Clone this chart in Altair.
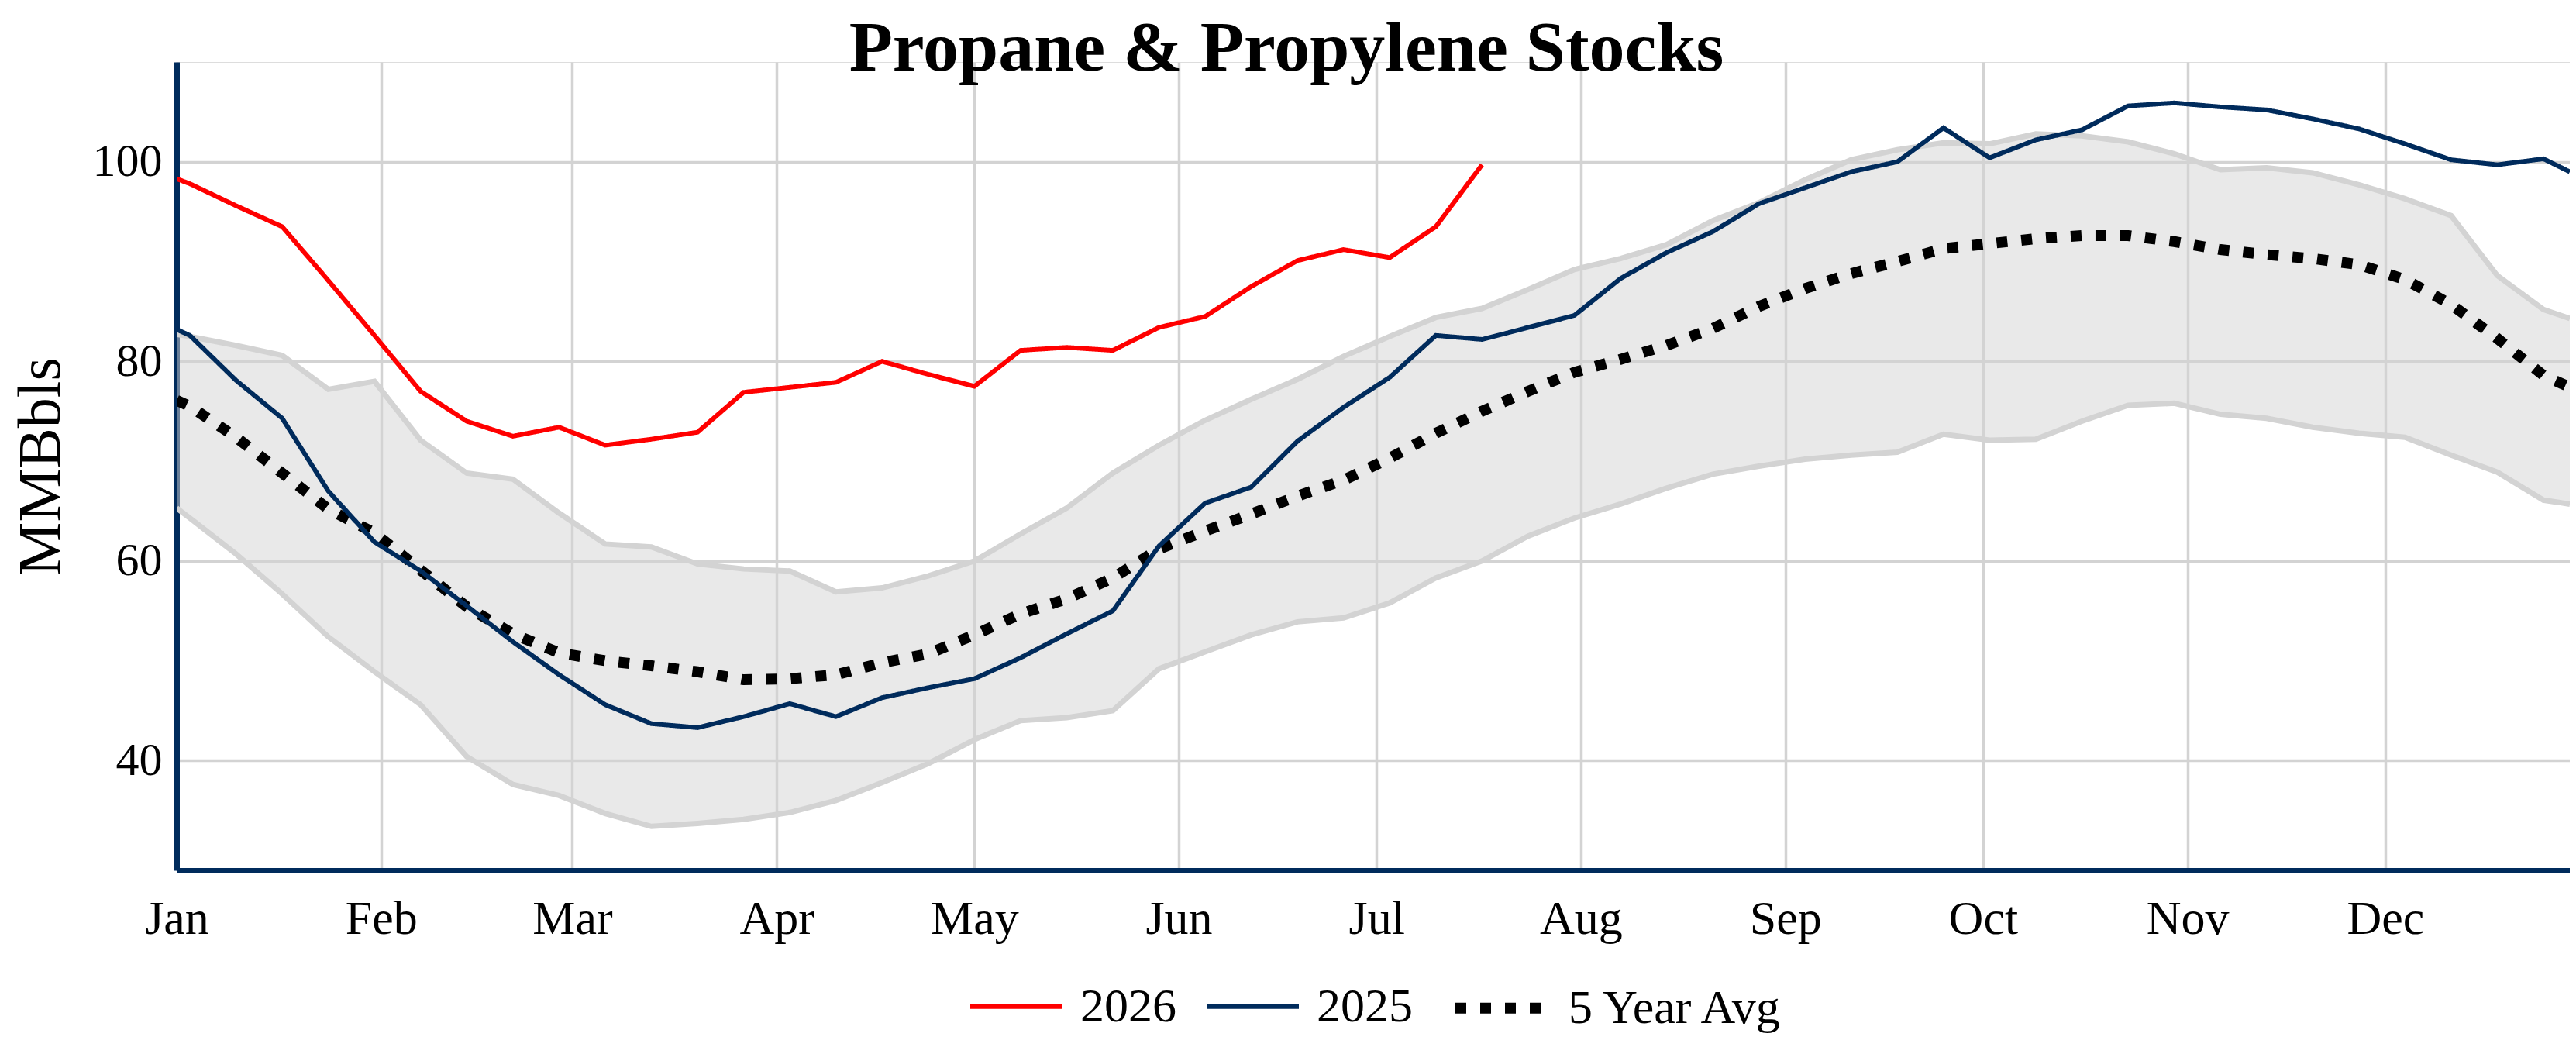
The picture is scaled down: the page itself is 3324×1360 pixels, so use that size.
import altair as alt
import pandas as pd

# ---------------- data ----------------
SERIES = ["2026", "2025", "5 Year Avg"]
COLORS = ["#ff0000", "#002b5c", "#000000"]

# weekly reporting dates (plotted on a common Jan-Dec calendar), plus the two plot edges
START_EDGE = "2024-01-01"
END_EDGE = "2024-12-29"
WEEKS = [d.strftime("%Y-%m-%d") for d in pd.date_range("2024-01-03", periods=52, freq="7D")]

# 2026 (Jan-1 edge value, then weekly values)
v2026 = [98.3,
         97.8, 95.6, 93.5, 88.1, 82.6, 77.0, 74.0, 72.5, 73.4, 71.6,
         72.2, 72.9, 76.9, 77.4, 77.9, 80.0, 78.7, 77.5, 81.1, 81.4,
         81.1, 83.4, 84.5, 87.5, 90.1, 91.2, 90.4, 93.5, 99.7]

# 2025 (Jan-1 edge, 52 weekly values, end edge)
v2025 = [83.2,
         82.6, 78.1, 74.3, 67.0, 61.9, 59.0, 55.5, 51.9, 48.6, 45.6,
         43.7, 43.3, 44.4, 45.7, 44.4, 46.3, 47.3, 48.2, 50.3, 52.7,
         55.0, 61.5, 65.8, 67.4, 72.0, 75.4, 78.4, 82.6, 82.2, 83.4,
         84.6, 88.3, 90.9, 93.0, 95.8, 97.4, 99.0, 100.0, 103.4, 100.4,
         102.2, 103.2, 105.6, 105.9, 105.5, 105.2, 104.3, 103.3, 101.8, 100.2,
         99.7, 100.3,
         99.0]

# 5 year average
avg5 = [76.1,
        75.5, 72.4, 68.8, 65.2, 62.8, 59.1, 55.4, 52.7, 50.8, 50.0,
        49.5, 48.9, 48.1, 48.2, 48.6, 49.8, 50.7, 52.6, 54.7, 56.2,
        58.3, 61.2, 63.0, 64.7, 66.5, 68.1, 70.3, 72.8, 75.0, 77.0,
        78.9, 80.2, 81.6, 83.3, 85.5, 87.3, 88.8, 90.0, 91.3, 91.8,
        92.3, 92.6, 92.6, 92.0, 91.2, 90.7, 90.3, 89.7, 88.2, 85.7,
        82.3, 78.6,
        77.4]

# 5 year range: maximum and minimum
band_max = [82.7,
            82.5, 81.6, 80.6, 77.2, 78.0, 72.1, 68.8, 68.2, 64.8, 61.7,
            61.4, 59.7, 59.2, 59.0, 56.9, 57.3, 58.5, 60.0, 62.7, 65.3,
            68.8, 71.6, 74.1, 76.2, 78.2, 80.5, 82.5, 84.4, 85.3, 87.2,
            89.2, 90.3, 91.7, 94.1, 95.9, 98.2, 100.2, 101.2, 101.9, 101.8,
            102.8, 102.6, 102.0, 100.8, 99.2, 99.4, 98.9, 97.7, 96.3, 94.6,
            88.6, 85.2,
            84.3]
band_min = [65.3,
            64.3, 60.7, 56.7, 52.4, 48.9, 45.6, 40.4, 37.6, 36.5, 34.7,
            33.4, 33.7, 34.1, 34.8, 36.0, 37.8, 39.7, 42.1, 44.0, 44.3,
            45.0, 49.2, 50.9, 52.6, 53.9, 54.3, 55.8, 58.3, 60.0, 62.5,
            64.3, 65.7, 67.3, 68.7, 69.5, 70.2, 70.6, 70.9, 72.7, 72.1,
            72.2, 74.0, 75.6, 75.8, 74.7, 74.3, 73.4, 72.8, 72.4, 70.6,
            68.9, 66.1,
            65.7]

MONTH_TICKS = list(range(1, 13))
Y_TICKS = [40, 60, 80, 100]

# ---------------- tables ----------------
hist_dates = [START_EDGE] + WEEKS + [END_EDGE]
d2026 = [START_EDGE] + WEEKS[: len(v2026) - 1]

rows = []
for d, v in zip(hist_dates, avg5):
    rows.append({"date": d, "value": v, "series": "5 Year Avg"})
for d, v in zip(hist_dates, v2025):
    rows.append({"date": d, "value": v, "series": "2025"})
for d, v in zip(d2026, v2026):
    rows.append({"date": d, "value": v, "series": "2026"})
lines_df = pd.DataFrame(rows)

band_df = pd.DataFrame({"date": hist_dates, "lo": band_min, "hi": band_max})

# ---------------- styling ----------------
NAVY = "#002b5c"
GRID = "#d3d3d3"
FONT = "Liberation Serif"

x_axis = alt.Axis(
    values=[alt.DateTime(year=2024, month=m, date=1, utc=True) for m in MONTH_TICKS],
    format="%b", labelFlush=False, labelOverlap=False,
    grid=True, gridColor=GRID, gridWidth=3.5,
    domainColor=NAVY, domainWidth=7, ticks=False, tickSize=0,
    labelPadding=32, labelFont=FONT, labelFontSize=62, labelColor="black",
    title=None,
)
y_axis = alt.Axis(
    values=Y_TICKS, grid=True, gridColor=GRID, gridWidth=3.5,
    domainColor=NAVY, domainWidth=7, ticks=False, tickSize=0,
    labelPadding=19, labelFont=FONT, labelFontSize=60, labelColor="black",
    title="MMBbls", titleFont=FONT, titleFontSize=78, titleFontWeight="normal",
    titleColor="black", titlePadding=27,
)

x_scale = alt.Scale(type="utc",
                    domain=[alt.DateTime(year=2024, month=1, date=1, utc=True),
                            alt.DateTime(year=2024, month=12, date=29, utc=True)])
y_scale = alt.Scale(domain=[29, 110], nice=False, zero=False)

X = alt.X("date:T", scale=x_scale, axis=x_axis)

band = alt.Chart(band_df).mark_area(color=GRID, opacity=0.5, clip=True).encode(
    x=X,
    y=alt.Y("lo:Q", scale=y_scale, axis=y_axis),
    y2="hi:Q",
)
band_hi = alt.Chart(band_df).mark_line(color=GRID, strokeWidth=7, clip=True).encode(
    x=X, y=alt.Y("hi:Q", scale=y_scale, axis=y_axis)
)
band_lo = alt.Chart(band_df).mark_line(color=GRID, strokeWidth=7, clip=True).encode(
    x=X, y=alt.Y("lo:Q", scale=y_scale, axis=y_axis)
)

legend = alt.Legend(
    title=None, orient="none", legendX=1021, legendY=1154, direction="horizontal",
    labelFont=FONT, labelFontSize=62, labelColor="black", labelLimit=0,
    symbolSize=14161, symbolType="stroke", labelOffset=20, columnPadding=27,
    padding=0,
)

series_lines = alt.Chart(lines_df).mark_line(clip=True, strokeCap="butt").encode(
    x=X,
    y=alt.Y("value:Q", scale=y_scale, axis=y_axis),
    color=alt.Color("series:N", scale=alt.Scale(domain=SERIES, range=COLORS), legend=legend),
    strokeDash=alt.StrokeDash("series:N",
                              scale=alt.Scale(domain=SERIES, range=[[1, 0], [1, 0], [14, 18]]),
                              legend=legend),
    strokeWidth=alt.StrokeWidth("series:N",
                                scale=alt.Scale(type="ordinal", domain=SERIES, range=[6, 6, 14]),
                                legend=legend),
    detail="series:N",
)

chart = alt.layer(band, band_hi, band_lo, series_lines).properties(
    width=3088,
    height=1043,
    title=alt.TitleParams("Propane & Propylene Stocks", font=FONT, fontSize=92,
                          fontWeight="bold", color="black", anchor="middle",
                          offset=-103, dx=-112, baseline="alphabetic"),
    autosize=alt.AutoSizeParams(type="none"),
    padding={"left": 220, "top": 72, "right": 0, "bottom": 220},
).configure_view(stroke=None).configure(background="white")

chart.save("out.html", embed_options={"renderer": "svg", "actions": False})
